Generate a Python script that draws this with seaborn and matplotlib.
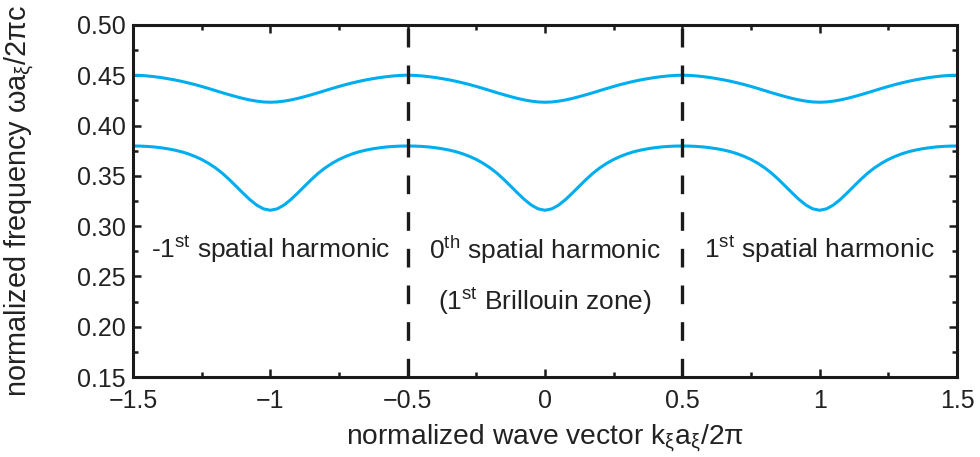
import numpy as np
import pandas as pd
import matplotlib
matplotlib.use("Agg")
import matplotlib.pyplot as plt
import seaborn as sns

# band profile, from the zone centre (k=0) to the zone edge (k=0.5)
k_half = [0.000, 0.025, 0.050, 0.075, 0.100, 0.125, 0.150, 0.175, 0.200, 0.225, 0.250,
          0.275, 0.300, 0.325, 0.350, 0.375, 0.400, 0.425, 0.450, 0.475, 0.500]
lower_half = [0.3158, 0.3172, 0.3210, 0.3265, 0.3330, 0.3398, 0.3465, 0.3527, 0.3580, 0.3625, 0.3663,
              0.3694, 0.3720, 0.3741, 0.3757, 0.3770, 0.3780, 0.3788, 0.3793, 0.3796, 0.3797]
upper_half = [0.4232, 0.4235, 0.4243, 0.4255, 0.4270, 0.4288, 0.4307, 0.4327, 0.4348, 0.4369, 0.4389,
              0.4408, 0.4425, 0.4441, 0.4455, 0.4467, 0.4478, 0.4487, 0.4494, 0.4499, 0.4501]

# the three spatial harmonics shown (zone centres)
zone_centres = [-1, 0, 1]
zone_edges = [-0.5, 0.5]
zone_labels = ["-1$\\mathregular{^{st}}$ spatial harmonic",
               "0$\\mathregular{^{th}}$ spatial harmonic",
               "1$\\mathregular{^{st}}$ spatial harmonic"]
brillouin_label = "(1$\\mathregular{^{st}}$ Brillouin zone)"

x_ticks = [-1.5, -1, -0.5, 0, 0.5, 1, 1.5]
x_ticklabels = ["\u22121.5", "\u22121", "\u22120.5", "0", "0.5", "1", "1.5"]
y_ticks = [0.15, 0.20, 0.25, 0.30, 0.35, 0.40, 0.45, 0.50]

band_color = "#00AEEF"

# one zone = mirrored half profile, repeated for each harmonic
kh = np.array(k_half)
k_zone = np.concatenate([-kh[::-1], kh[1:]])
rows = []
for band, half in [("lower", lower_half), ("upper", upper_half)]:
    v = np.array(half)
    v_zone = np.concatenate([v[::-1], v[1:]])
    for c in zone_centres:
        for kk, vv in zip(k_zone + c, v_zone):
            rows.append((band, kk, vv))
df = pd.DataFrame(rows, columns=["band", "k", "freq"])

sns.set_style("ticks")
plt.rcParams['font.family'] = ['Liberation Sans', 'DejaVu Sans']
plt.rcParams['axes.linewidth'] = 2.2

fig = plt.figure(figsize=(9.8, 4.57), dpi=100)
ax = fig.add_axes([0.1357, 0.175, 0.8408, 0.7703])

for band in ["lower", "upper"]:
    sns.lineplot(data=df[df["band"] == band], x="k", y="freq", estimator=None, sort=False,
                 color=band_color, linewidth=2.2, ax=ax)

for e in zone_edges:
    ax.axvline(e, color="#1a1a1a", linewidth=2.4, dashes=(5.6, 5.4))

for c, lab in zip(zone_centres, zone_labels):
    ax.text(c, 0.2765, lab, ha="center", va="center", fontsize=19, color="#222222")
ax.text(0, 0.225, brillouin_label, ha="center", va="center", fontsize=19, color="#222222")

ax.set_xlim(-1.5, 1.5)
ax.set_ylim(0.15, 0.50)
ax.set_xticks(x_ticks)
ax.set_xticklabels(x_ticklabels)
ax.set_yticks(y_ticks)
ax.set_yticklabels([f"{t:.2f}" for t in y_ticks])
ax.set_xticks([-1.25, -0.75, -0.25, 0.25, 0.75, 1.25], minor=True)
ax.set_yticks([0.175, 0.225, 0.275, 0.325, 0.375, 0.425, 0.475], minor=True)
ax.tick_params(which="both", direction="in", top=True, right=True, colors="#1a1a1a",
               labelsize=18, labelcolor="#222222", width=1.8)
ax.tick_params(axis="x", which="both", pad=8.5)
ax.tick_params(axis="y", which="both", pad=5)
ax.tick_params(which="major", length=5.5)
ax.tick_params(which="minor", length=3.5)
for s in ax.spines.values():
    s.set_color("#1a1a1a")

ax.set_xlabel("normalized wave vector k$\\mathregular{_ξ}$a$\\mathregular{_ξ}$/2π", fontsize=20.3,
              color="#222222")
ax.set_ylabel("normalized frequency ωa$\\mathregular{_ξ}$/2πc", fontsize=20.8,
              color="#222222")
ax.xaxis.set_label_coords(0.5, -0.13)
ax.yaxis.set_label_coords(-0.116, 0.5)

fig.savefig("out.png", dpi=100)
